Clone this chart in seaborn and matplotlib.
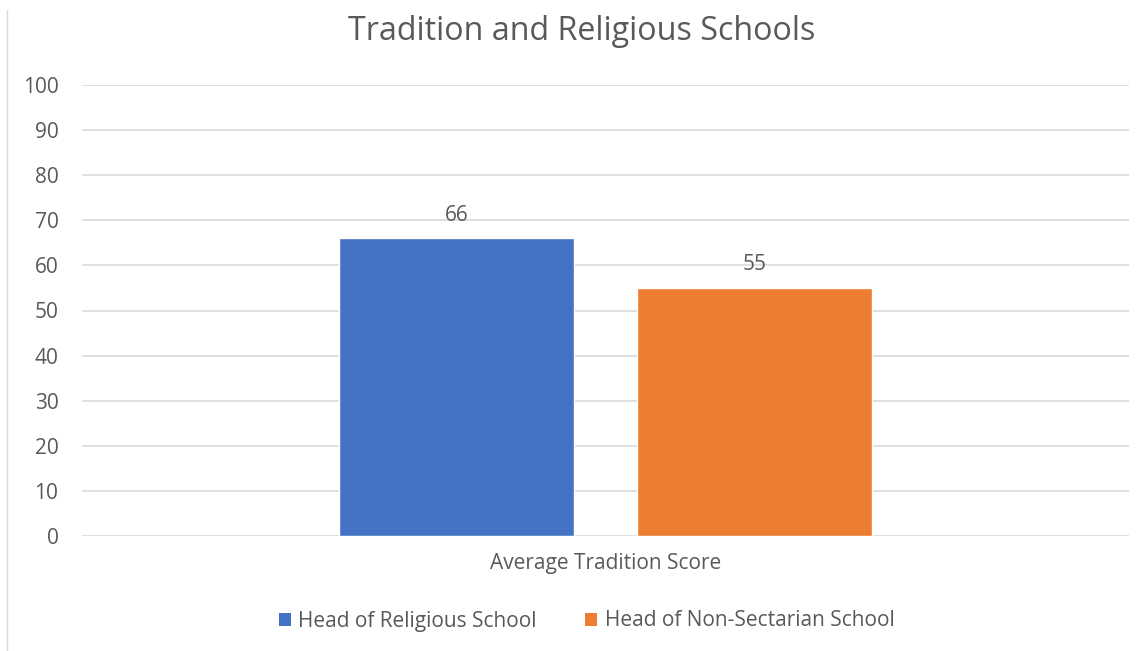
import matplotlib
matplotlib.use("Agg")
import matplotlib.pyplot as plt
import seaborn as sns
import pandas as pd
from matplotlib.lines import Line2D
from matplotlib.patches import Patch

categories = ["Average Tradition Score"]
series = ["Head of Religious School", "Head of Non-Sectarian School"]
values = [66, 55]
yticks = [0, 10, 20, 30, 40, 50, 60, 70, 80, 90, 100]
colors = ["#4472C4", "#ED7D31"]
title = "Tradition and Religious Schools"

df = pd.DataFrame({"cat": categories * len(series), "series": series, "value": values})

sns.set_theme(style="white")
plt.rcParams["font.family"] = ["Open Sans", "DejaVu Sans"]
txt = "#595959"

fig = plt.figure(figsize=(11.45, 6.51), dpi=100)
ax = fig.add_axes([82/1145, 1 - 536/651, (1129-82)/1145, (536-85)/651])

sns.barplot(data=df, x="cat", y="value", hue="series", palette=colors,
            width=0.569, gap=0.211, ax=ax, legend=False, saturation=1)

ax.set_xlim(-0.5, 0.5)
ax.set_ylim(0, 100)
ax.set_yticks(yticks)
ax.yaxis.grid(True, color="#D9D9D9", linewidth=1.2)
ax.set_axisbelow(True)
for s in ["top", "right", "left", "bottom"]:
    ax.spines[s].set_visible(False)
ax.set_xlabel("")
ax.set_ylabel("")
ax.tick_params(axis="y", labelsize=15, labelcolor=txt, length=0, pad=17)
ax.tick_params(axis="x", labelsize=15, labelcolor=txt, length=0, pad=12)

for c in ax.containers:
    ax.bar_label(c, labels=[f"{v:g}" for v in c.datavalues], padding=9,
                 fontsize=15, color=txt)

fig.text(581.5/1145, 1 - 31/651, title, ha="center", va="center", fontsize=23.2, color=txt)

handles = [Patch(facecolor=col, edgecolor="none") for col in colors]
fig.legend(handles, series, loc="center", bbox_to_anchor=(586.5/1145, 1 - 621/651),
           ncol=2, frameon=False, fontsize=15, labelcolor=txt,
           handlelength=0.6, handleheight=0.6, handletextpad=0.35, columnspacing=2.3)

fig.add_artist(Line2D([7/1145, 7/1145], [0, 1 - 10/651], color="#D9D9D9", linewidth=1,
                      transform=fig.transFigure))

fig.savefig("out.png", dpi=100, facecolor="white")
